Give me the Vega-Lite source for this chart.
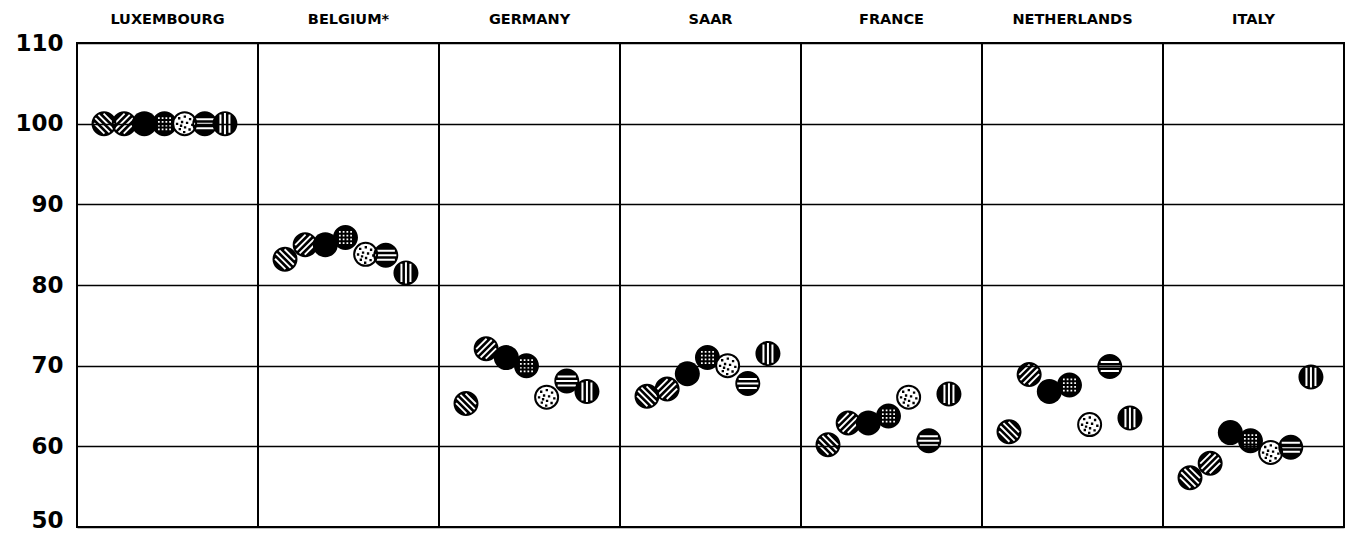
{
  "$schema": "https://vega.github.io/schema/vega-lite/v6.json",
  "padding": {"top": 11, "left": 5, "right": 5, "bottom": 5},
  "background": "white",
  "data": {"values": [
    {"country": "LUXEMBOURG", "period": 1, "value": 100},
    {"country": "LUXEMBOURG", "period": 2, "value": 100},
    {"country": "LUXEMBOURG", "period": 3, "value": 100},
    {"country": "LUXEMBOURG", "period": 4, "value": 100},
    {"country": "LUXEMBOURG", "period": 5, "value": 100},
    {"country": "LUXEMBOURG", "period": 6, "value": 100},
    {"country": "LUXEMBOURG", "period": 7, "value": 100},
    {"country": "BELGIUM*", "period": 1, "value": 83.2},
    {"country": "BELGIUM*", "period": 2, "value": 85.0},
    {"country": "BELGIUM*", "period": 3, "value": 85.0},
    {"country": "BELGIUM*", "period": 4, "value": 85.9},
    {"country": "BELGIUM*", "period": 5, "value": 83.8},
    {"country": "BELGIUM*", "period": 6, "value": 83.7},
    {"country": "BELGIUM*", "period": 7, "value": 81.5},
    {"country": "GERMANY", "period": 1, "value": 65.3},
    {"country": "GERMANY", "period": 2, "value": 72.1},
    {"country": "GERMANY", "period": 3, "value": 71.0},
    {"country": "GERMANY", "period": 4, "value": 70.0},
    {"country": "GERMANY", "period": 5, "value": 66.1},
    {"country": "GERMANY", "period": 6, "value": 68.1},
    {"country": "GERMANY", "period": 7, "value": 66.8},
    {"country": "SAAR", "period": 1, "value": 66.2},
    {"country": "SAAR", "period": 2, "value": 67.1},
    {"country": "SAAR", "period": 3, "value": 69.0},
    {"country": "SAAR", "period": 4, "value": 71.0},
    {"country": "SAAR", "period": 5, "value": 70.0},
    {"country": "SAAR", "period": 6, "value": 67.8},
    {"country": "SAAR", "period": 7, "value": 71.5},
    {"country": "FRANCE", "period": 1, "value": 60.2},
    {"country": "FRANCE", "period": 2, "value": 62.9},
    {"country": "FRANCE", "period": 3, "value": 62.9},
    {"country": "FRANCE", "period": 4, "value": 63.75},
    {"country": "FRANCE", "period": 5, "value": 66.1},
    {"country": "FRANCE", "period": 6, "value": 60.7},
    {"country": "FRANCE", "period": 7, "value": 66.5},
    {"country": "NETHERLANDS", "period": 1, "value": 61.8},
    {"country": "NETHERLANDS", "period": 2, "value": 68.9},
    {"country": "NETHERLANDS", "period": 3, "value": 66.8},
    {"country": "NETHERLANDS", "period": 4, "value": 67.6},
    {"country": "NETHERLANDS", "period": 5, "value": 62.7},
    {"country": "NETHERLANDS", "period": 6, "value": 69.9},
    {"country": "NETHERLANDS", "period": 7, "value": 63.5},
    {"country": "ITALY", "period": 1, "value": 56.1},
    {"country": "ITALY", "period": 2, "value": 57.9},
    {"country": "ITALY", "period": 3, "value": 61.7},
    {"country": "ITALY", "period": 4, "value": 60.7},
    {"country": "ITALY", "period": 5, "value": 59.25},
    {"country": "ITALY", "period": 6, "value": 59.9},
    {"country": "ITALY", "period": 7, "value": 68.6}
  ]},
  "facet": {
    "column": {
      "field": "country",
      "type": "nominal",
      "sort": ["LUXEMBOURG", "BELGIUM*", "GERMANY", "SAAR", "FRANCE", "NETHERLANDS", "ITALY"],
      "title": null,
      "header": {
        "labelFont": "DejaVu Sans",
        "labelFontSize": 14.5,
        "labelFontWeight": "bold",
        "labelColor": "black",
        "labelPadding": 16
      }
    }
  },
  "spacing": 0,
  "bounds": "flush",
  "spec": {
    "width": 181,
    "height": 484,
    "mark": {"type": "point", "filled": true, "opacity": 1, "size": 625},
    "encoding": {
      "x": {
        "field": "period",
        "type": "quantitative",
        "scale": {"domain": [-0.34, 8.64], "nice": false, "zero": false},
        "axis": null
      },
      "y": {
        "field": "value",
        "type": "quantitative",
        "scale": {"domain": [50, 110], "nice": false, "zero": false},
        "axis": {
          "title": null,
          "values": [50, 60, 70, 80, 90, 100, 110],
          "domain": false,
          "ticks": false,
          "grid": true,
          "gridColor": "black",
          "gridWidth": 1.3,
          "gridOpacity": 1,
          "labelFont": "DejaVu Sans",
          "labelFontSize": 23,
          "labelFontWeight": "bold",
          "labelColor": "black",
          "labelPadding": 14,
          "labelOffset": {"condition": {"test": "datum.value === 50", "value": -7}, "value": 0},
          "minExtent": 72,
          "maxExtent": 72
        }
      },
      "shape": {
        "field": "period",
        "type": "nominal",
        "legend": null,
        "scale": {
          "domain": [1, 2, 3, 4, 5, 6, 7],
          "range": [
            "M1,0C1,0.552,0.552,1,0,1C-0.552,1,-1,0.552,-1,0C-1,-0.552,-0.552,-1,0,-1C0.552,-1,1,-0.552,1,0Z M0.02,-0.85L-0.086,-0.744L0.744,0.086L0.85,-0.02Z M-0.393,-0.754L-0.499,-0.648L0.648,0.499L0.754,0.393Z M-0.648,-0.499L-0.754,-0.393L0.393,0.754L0.499,0.648Z M-0.744,-0.086L-0.85,0.02L-0.02,0.85L0.086,0.744Z",
            "M1,0C1,0.552,0.552,1,0,1C-0.552,1,-1,0.552,-1,0C-1,-0.552,-0.552,-1,0,-1C0.552,-1,1,-0.552,1,0Z M-0.85,-0.02L-0.744,0.086L0.086,-0.744L-0.02,-0.85Z M-0.754,0.393L-0.648,0.499L0.499,-0.648L0.393,-0.754Z M-0.499,0.648L-0.393,0.754L0.754,-0.393L0.648,-0.499Z M-0.086,0.744L0.02,0.85L0.85,0.02L0.744,-0.086Z",
            "circle",
            "M1,0C1,0.552,0.552,1,0,1C-0.552,1,-1,0.552,-1,0C-1,-0.552,-0.552,-1,0,-1C0.552,-1,1,-0.552,1,0Z M-0.52,-0.52L-0.52,-0.38L-0.38,-0.38L-0.38,-0.52Z M-0.22,-0.52L-0.22,-0.38L-0.08,-0.38L-0.08,-0.52Z M0.08,-0.52L0.08,-0.38L0.22,-0.38L0.22,-0.52Z M0.38,-0.52L0.38,-0.38L0.52,-0.38L0.52,-0.52Z M-0.52,-0.22L-0.52,-0.08L-0.38,-0.08L-0.38,-0.22Z M-0.22,-0.22L-0.22,-0.08L-0.08,-0.08L-0.08,-0.22Z M0.08,-0.22L0.08,-0.08L0.22,-0.08L0.22,-0.22Z M0.38,-0.22L0.38,-0.08L0.52,-0.08L0.52,-0.22Z M-0.52,0.08L-0.52,0.22L-0.38,0.22L-0.38,0.08Z M-0.22,0.08L-0.22,0.22L-0.08,0.22L-0.08,0.08Z M0.08,0.08L0.08,0.22L0.22,0.22L0.22,0.08Z M0.38,0.08L0.38,0.22L0.52,0.22L0.52,0.08Z M-0.52,0.38L-0.52,0.52L-0.38,0.52L-0.38,0.38Z M-0.22,0.38L-0.22,0.52L-0.08,0.52L-0.08,0.38Z M0.08,0.38L0.08,0.52L0.22,0.52L0.22,0.38Z M0.38,0.38L0.38,0.52L0.52,0.52L0.52,0.38Z",
            "M0.92,0C0.92,0.508,0.508,0.92,0,0.92C-0.508,0.92,-0.92,0.508,-0.92,0C-0.92,-0.508,-0.508,-0.92,0,-0.92C0.508,-0.92,0.92,-0.508,0.92,0Z M-0.45,-0.45L-0.42,-0.45L-0.42,-0.42L-0.45,-0.42Z M0,-0.58L0.03,-0.58L0.03,-0.55L0,-0.55Z M0.42,-0.38L0.45,-0.38L0.45,-0.35L0.42,-0.35Z M-0.62,0L-0.59,0L-0.59,0.03L-0.62,0.03Z M-0.22,-0.15L-0.19,-0.15L-0.19,-0.12L-0.22,-0.12Z M0.18,-0.08L0.21,-0.08L0.21,-0.05L0.18,-0.05Z M0.6,0.08L0.63,0.08L0.63,0.11L0.6,0.11Z M-0.4,0.42L-0.37,0.42L-0.37,0.45L-0.4,0.45Z M0.02,0.28L0.05,0.28L0.05,0.31L0.02,0.31Z M0.38,0.45L0.41,0.45L0.41,0.48L0.38,0.48Z M-0.05,0.66L-0.02,0.66L-0.02,0.69L-0.05,0.69Z M-0.3,0.15L-0.27,0.15L-0.27,0.18L-0.3,0.18Z",
            "M1,0C1,0.552,0.552,1,0,1C-0.552,1,-1,0.552,-1,0C-1,-0.552,-0.552,-1,0,-1C0.552,-1,1,-0.552,1,0Z M-0.727,-0.44L-0.727,-0.28L0.727,-0.28L0.727,-0.44Z M-0.846,-0.08L-0.846,0.08L0.846,0.08L0.846,-0.08Z M-0.727,0.28L-0.727,0.44L0.727,0.44L0.727,0.28Z",
            "M1,0C1,0.552,0.552,1,0,1C-0.552,1,-1,0.552,-1,0C-1,-0.552,-0.552,-1,0,-1C0.552,-1,1,-0.552,1,0Z M-0.44,-0.727L-0.44,0.727L-0.28,0.727L-0.28,-0.727Z M-0.08,-0.846L-0.08,0.846L0.08,0.846L0.08,-0.846Z M0.28,-0.727L0.28,0.727L0.44,0.727L0.44,-0.727Z"
          ]
        }
      },
      "fill": {"condition": {"test": "datum.period === 5", "value": "white"}, "value": "black"},
      "stroke": {"value": "black"},
      "strokeWidth": {"condition": {"test": "datum.period === 5", "value": 2}, "value": 0}
    }
  },
  "config": {
    "view": {"stroke": "black", "strokeWidth": 2},
    "font": "DejaVu Sans"
  }
}
